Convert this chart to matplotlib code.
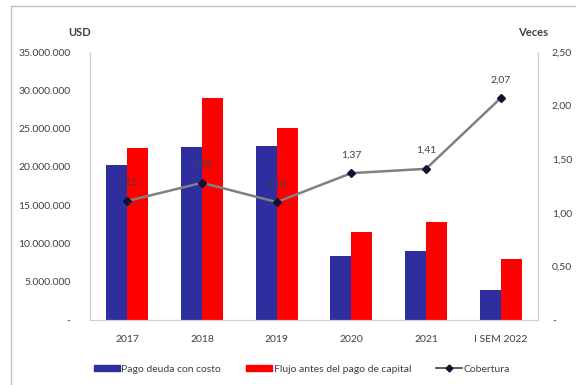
import matplotlib
matplotlib.use('Agg')
import matplotlib.pyplot as plt
import numpy as np
from matplotlib.patches import Rectangle
from matplotlib.lines import Line2D
from matplotlib.patches import Patch

plt.rcParams['font.family'] = ['Lato', 'DejaVu Sans']

categories = ['2017', '2018', '2019', '2020', '2021', 'I SEM 2022']
pago_deuda = [20.2e6, 22.6e6, 22.7e6, 8.4e6, 9.0e6, 3.9e6]
flujo_antes = [22.5e6, 29.0e6, 25.1e6, 11.5e6, 12.8e6, 8.0e6]
cobertura = [1.11, 1.28, 1.10, 1.37, 1.41, 2.07]

left_ticks = [0, 5e6, 10e6, 15e6, 20e6, 25e6, 30e6, 35e6]
right_ticks = [0, 0.5, 1.0, 1.5, 2.0, 2.5]

blue = '#2E2E9E'
red = '#FF0000'
txt = '#404040'

fig = plt.figure(figsize=(5.76, 3.85), dpi=100)
# outer chart frame
fig.patches.append(Rectangle((11/576, -0.1), 1.2, 1.1 - 6/385, transform=fig.transFigure,
                             fill=False, edgecolor='#BFBFBF', linewidth=1.0))

ax = fig.add_axes([90/576, 1 - 320/385, 448/576, 268/385])
x = np.arange(len(categories))
w = 0.28
ax.bar(x - w/2, pago_deuda, w, color=blue, label='Pago deuda con costo')
ax.bar(x + w/2, flujo_antes, w, color=red, label='Flujo antes del pago de capital')
ax.set_xlim(-0.5, len(categories) - 0.5)
ax.set_ylim(0, 35e6)
ax.set_yticks(left_ticks)
ax.set_yticklabels(['-'] + ['{:,.0f}'.format(v).replace(',', '.') for v in left_ticks[1:]])
ax.set_xticks(x)
ax.set_xticklabels(categories)
ax.tick_params(axis='both', length=0, labelsize=7.5, colors=txt, pad=11)
ax.tick_params(axis='y', pad=14)
ax.spines['top'].set_visible(False)
for s in ['left', 'right', 'bottom']:
    ax.spines[s].set_color('#D0D0D0')
    ax.spines[s].set_linewidth(0.8)

ax2 = ax.twinx()
ax2.plot(x, cobertura, color='#808080', linewidth=1.8, marker='D', markersize=4,
         markerfacecolor='#101030', markeredgecolor='#101030', label='Cobertura')
ax2.set_ylim(0, 2.5)
ax2.set_yticks(right_ticks)
ax2.set_yticklabels(['-'] + ['{:.2f}'.format(v).replace('.', ',') for v in right_ticks[1:]])
ax2.tick_params(axis='y', length=0, labelsize=7.5, colors=txt, pad=10)
ax2.spines['top'].set_visible(False)
for s in ['left', 'right', 'bottom']:
    ax2.spines[s].set_color('#D0D0D0')
    ax2.spines[s].set_linewidth(0.8)
for xi, v in zip(x, cobertura):
    ax2.annotate('{:.2f}'.format(v).replace('.', ','), (xi, v), xytext=(0, 10),
                 textcoords='offset points', ha='center', va='bottom', fontsize=7.5, color=txt)

fig.text(80/576, 1 - 33/385, 'USD', ha='center', va='center', fontsize=8, fontweight='bold', color=txt)
fig.text(533/576, 1 - 33/385, 'Veces', ha='center', va='center', fontsize=8, fontweight='bold', color=txt)

handles = [Patch(color=blue), Patch(color=red),
           Line2D([0], [0], color='#404040', linewidth=1.2, marker='D', markersize=3.5,
                  markerfacecolor='#101030', markeredgecolor='#101030')]
labels = ['Pago deuda con costo', 'Flujo antes del pago de capital', 'Cobertura']
leg = fig.legend(handles, labels, loc='center', bbox_to_anchor=(302/576, 1 - 369/385), ncol=3,
                 frameon=False, fontsize=7.5, handlelength=2.5, handleheight=0.45,
                 handletextpad=0.15, columnspacing=2.4)
for t in leg.get_texts():
    t.set_color(txt)

plt.savefig('out.png', dpi=100)
